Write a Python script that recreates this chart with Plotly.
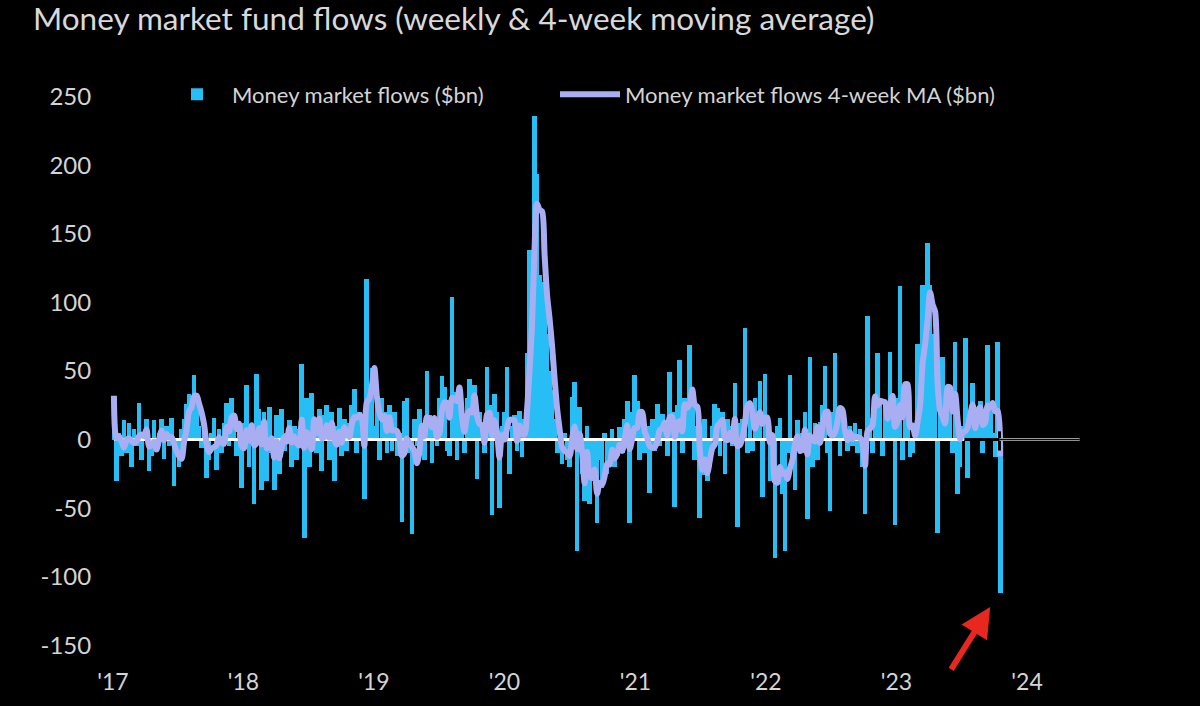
import pandas as pd
import plotly.graph_objects as go

# weekly money market fund flows, $bn (one list per year)
flows_2017 = [32, -30, 5, -12, 14, -10, 12, -20, 8, -5,
              27, -15, 3, 15, -23, -12, 14, -8, 5, 15,
              -14, 10, -5, 16, -34, -10, -20, 8, 15, 26,
              33, 20, 47, 28, 10, -6, 12, -28, -15, 5,
              16, -22, 8, -10, 12, 27, -5, 30, 18, -12,
              10, -35]
flows_2018 = [12, 40, -20, 10, -47, 48, 22, -37, 20, -30,
              24, -10, -37, 18, -25, 22, -8, 5, 14, -20,
              10, -15, 8, 55, -72, 30, -20, 34, 15, -10,
              22, -23, 18, 25, -15, 20, -30, 10, 23, -12,
              15, -8, 12, 25, 37, -10, 20, 15, -43, 117,
              30, 52]
flows_2019 = [10, 34, -15, 30, 20, -10, 25, -8, 20, -12,
              5, -60, 28, 30, -10, -69, 15, -5, 22, 8,
              -15, 50, 18, -17, 12, -5, 30, 46, 38, -8,
              -12, 104, 35, -15, 28, 20, -10, 30, 44, 15,
              40, -29, 20, 10, -10, 53, 25, -55, 33, 20,
              -50, 10]
flows_2020 = [20, 53, -25, 10, 18, -8, 21, -13, 15, 63,
              138, 120, 236, 194, 120, 115, 110, 77, 50, 36,
              15, -10, -10, -18, 5, -15, -20, 31, 42, -81,
              24, -25, -45, 10, -47, -30, -20, -61, -15, -35,
              5, -25, -18, 8, -20, -12, 9, -10, 15, 28,
              -61, 20, 47]
flows_2021 = [28, -15, 20, -10, 10, -39, 15, -8, 26, -5,
              19, 10, -12, 49, 20, -49, 25, 58, -10, 30,
              15, 69, 32, -15, 10, -57, -26, 15, -30, -20,
              10, 26, 23, -12, 20, -25, 15, 10, -5, 41,
              -64, 12, 15, 81, -10, 20, -8, 30, 15, 43,
              -42, 48]
flows_2022 = [15, -30, -20, -86, 10, 16, -40, -81, -10, 47,
              -15, -37, 14, 5, -10, 20, -58, 60, -20, 12,
              -15, 13, 25, 54, -10, -52, 20, 63, 21, -12,
              14, 5, -8, 10, -5, 12, -10, 8, -20, -54,
              90, 16, -10, 30, 63, 30, -12, 28, 15, 64,
              20, -62]
flows_2023 = [30, 112, -15, 34, 30, -13, -10, 5, 70, 35,
              113, 60, 143, 113, 77, 40, -68, 35, 60, 20,
              38, 34, -10, 71, -40, -20, 10, 74, -28, 15,
              41, 5, 20, 28, -10, 12, 69, 21, 5, -13,
              71, -112]

year_ticks = ["2017-01-01", "2018-01-01", "2019-01-01", "2020-01-01",
              "2021-01-01", "2022-01-01", "2023-01-01", "2024-01-01"]
year_labels = ["'17", "'18", "'19", "'20", "'21", "'22", "'23", "'24"]
y_ticks = [250, 200, 150, 100, 50, 0, -50, -100, -150]
y_labels = ["250", "200", "150", "100", "50", "0", "-50", "-100", "-150"]

flows = (flows_2017 + flows_2018 + flows_2019 + flows_2020
         + flows_2021 + flows_2022 + flows_2023)
weeks = pd.date_range("2017-01-04", periods=len(flows), freq="7D")
ma4 = pd.Series(flows).rolling(4, min_periods=1).mean()

BAR = "#27bdf5"
MA = "#a9aef2"
TXT = "#d4d4d4"
FONT = "Lato"

fig = go.Figure()
fig.add_trace(go.Bar(x=weeks, y=flows, name="Money market flows ($bn)",
                     marker=dict(color=BAR, line=dict(width=0)),
                     width=13 * 86400000, legend="legend"))
# zero line sits over the bars but under the moving average
fig.add_trace(go.Scatter(x=[weeks[0], "2023-07-10"], y=[0, 0], mode="lines",
                         line=dict(color="#ffffff", width=3),
                         showlegend=False, hoverinfo="skip"))
fig.add_trace(go.Scatter(x=weeks, y=ma4, mode="lines",
                         name="Money market flows 4-week MA ($bn)",
                         line=dict(color=MA, width=6, shape="spline", smoothing=0.8),
                         legend="legend2"))

# bits of the cut-off zero line at the right end
fig.add_shape(type="line", x0="2023-07-10", x1="2023-10-16", y0=0, y1=0,
              line=dict(color="#000000", width=3), layer="above")
fig.add_shape(type="line", x0="2023-10-16", x1="2023-10-16", y0=-8, y1=6,
              line=dict(color="#000000", width=3), layer="above")
fig.add_shape(type="line", x0="2023-10-16", x1="2024-05-27", y0=0, y1=0,
              line=dict(color="#9a9a9a", width=3), layer="above")
fig.add_shape(type="line", x0="2023-10-16", x1="2024-05-27", y0=0, y1=0,
              line=dict(color="#000000", width=1), layer="above")

# red arrow pointing at the last week
fig.add_annotation(x="2023-09-20", y=-122, ax=-40, ay=64, text="",
                   showarrow=True, arrowhead=2, arrowsize=1, arrowwidth=6,
                   arrowcolor="#e8281e")

leg = dict(orientation="h", xanchor="left", y=0.98, yanchor="middle",
           bgcolor="rgba(0,0,0,0)", font=dict(size=22, color=TXT), itemwidth=60)

fig.update_layout(
  width=1200, height=706,
  paper_bgcolor="#000000", plot_bgcolor="#000000",
  margin=dict(l=100, r=110, t=83, b=47, autoexpand=False),
  font=dict(family=FONT, color=TXT, size=22),
  title=dict(text="Money market fund flows (weekly & 4-week moving average)",
             x=33 / 1200, xref="container", xanchor="left",
             y=1 - 19 / 706, yref="container", yanchor="middle",
             font=dict(family=FONT, size=31.5, color="#d9d9d9")),
  bargap=0,
  showlegend=True,
  legend=dict(leg, x=(162 - 100) / 990),
  legend2=dict(leg, x=(555 - 100) / 990),
)
fig.update_xaxes(range=["2016-11-26", "2024-06-25"], tickvals=year_ticks,
                 ticktext=year_labels, showgrid=False, zeroline=False,
                 showline=False, ticks="outside", ticklen=2, tickcolor="#000000",
                 tickfont=dict(size=23, color=TXT))
fig.update_yaxes(range=[-160, 260], tickvals=y_ticks, ticktext=y_labels,
                 showgrid=False, zeroline=False, showline=False,
                 ticks="outside", ticklen=3, tickcolor="#000000",
                 tickfont=dict(size=24, color=TXT))

# page body has a default 8px margin; drop it so the figure sits at the corner
fig.write_html("out.html", config={"displayModeBar": False},
               post_script="document.body.style.margin = '0';")
